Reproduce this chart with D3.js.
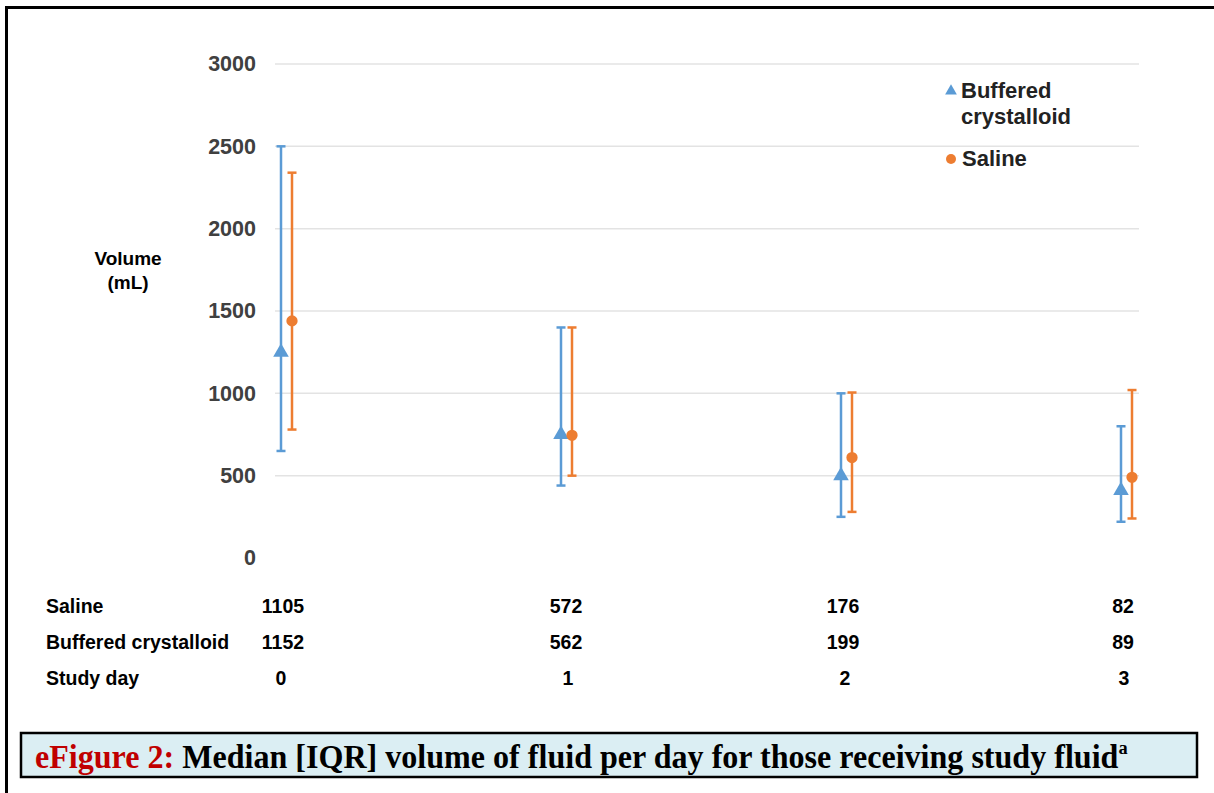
<!DOCTYPE html>
<html>
<head>
<meta charset="utf-8">
<script src="https://cdn.jsdelivr.net/npm/d3@7"></script>
<style>
  body { margin: 0; background: #fff; }
  svg { display: block; }
</style>
</head>
<body>
<svg id="chart" width="1214" height="793"></svg>
<script>
// Study days on the x axis
var days = [0, 1, 2, 3];

// Buffered crystalloid: median and IQR (mL)
var bufferedMedian = [1250, 750, 500, 410];
var bufferedLow = [650, 440, 250, 220];
var bufferedHigh = [2500, 1400, 1000, 800];

// Saline: median and IQR (mL)
var salineMedian = [1440, 745, 610, 490];
var salineLow = [780, 500, 280, 240];
var salineHigh = [2340, 1400, 1005, 1020];

// Patient counts shown under the chart
var salineN = [1105, 572, 176, 82];
var bufferedN = [1152, 562, 199, 89];

var yTicks = [0, 500, 1000, 1500, 2000, 2500, 3000];

var blue = "#5b9bd5";
var orange = "#ed7d31";
var sans = "Liberation Sans, Arial, sans-serif";

var svg = d3.select("#chart");

// Outer frame (left and top edges only are visible)
svg.append("path")
    .attr("d", "M6.5,793 L6.5,7.5 L1214,7.5")
    .attr("fill", "none")
    .attr("stroke", "#000")
    .attr("stroke-width", 3);

// Scales
var x = d3.scalePoint().domain(days).range([286, 1126]);
var y = d3.scaleLinear().domain([0, 3000]).range([558, 64]);

// Gridlines
svg.append("g").selectAll("line")
    .data(yTicks.filter(function (d) { return d > 0; }))
    .enter().append("line")
    .attr("x1", 275).attr("x2", 1139)
    .attr("y1", function (d) { return y(d); })
    .attr("y2", function (d) { return y(d); })
    .attr("stroke", "#e3e3e3")
    .attr("stroke-width", 1.5);

// Y axis labels
var yAxis = d3.axisLeft(y).tickValues(yTicks).tickFormat(d3.format("d")).tickSize(0).tickPadding(0);
var ya = svg.append("g").attr("transform", "translate(256,0)").call(yAxis);
ya.select(".domain").remove();
ya.selectAll("text")
    .style("font-family", sans)
    .style("font-size", "21.5px")
    .style("font-weight", "bold")
    .attr("fill", "#404040");

// Axis title
var yt = svg.append("text")
    .attr("text-anchor", "middle")
    .style("font-family", sans)
    .style("font-size", "19px")
    .style("font-weight", "bold")
    .attr("fill", "#000");
yt.append("tspan").attr("x", 128).attr("y", 265).text("Volume");
yt.append("tspan").attr("x", 128).attr("y", 289).text("(mL)");

// Draw one series of error bars with markers
function drawSeries(median, low, high, color, offset, marker, size) {
    var g = svg.append("g");
    days.forEach(function (d, i) {
        var cx = x(d) + offset;
        g.append("line")
            .attr("x1", cx).attr("x2", cx)
            .attr("y1", y(low[i])).attr("y2", y(high[i]))
            .attr("stroke", color).attr("stroke-width", 2.5);
        [low[i], high[i]].forEach(function (v) {
            g.append("line")
                .attr("x1", cx - 4.5).attr("x2", cx + 4.5)
                .attr("y1", y(v)).attr("y2", y(v))
                .attr("stroke", color).attr("stroke-width", 2.5);
        });
        g.append("path")
            .attr("d", d3.symbol().type(marker).size(size)())
            .attr("transform", "translate(" + cx + "," + y(median[i]) + ")")
            .attr("fill", color);
    });
}

drawSeries(bufferedMedian, bufferedLow, bufferedHigh, blue, -5, d3.symbolTriangle, 105);
drawSeries(salineMedian, salineLow, salineHigh, orange, 6, d3.symbolCircle, 100);

// Legend
var legend = svg.append("g")
    .style("font-family", sans)
    .style("font-size", "22px")
    .style("font-weight", "bold");
legend.append("path")
    .attr("d", d3.symbol().type(d3.symbolTriangle).size(60)())
    .attr("transform", "translate(951,91)")
    .attr("fill", blue);
var lt = legend.append("text").attr("fill", "#222");
lt.append("tspan").attr("x", 961).attr("y", 98).text("Buffered");
lt.append("tspan").attr("x", 961).attr("y", 124).text("crystalloid");
legend.append("circle")
    .attr("cx", 951).attr("cy", 159).attr("r", 5)
    .attr("fill", orange);
legend.append("text").attr("x", 962).attr("y", 166).attr("fill", "#222").text("Saline");

// Table of counts under the chart
var rows = [
    { label: "Saline", values: salineN, y: 613, shift: [0, 3, 0, 0] },
    { label: "Buffered crystalloid", values: bufferedN, y: 649, shift: [0, 3, 0, 0] },
    { label: "Study day", values: days, y: 685, shift: [-2, 5, 2, 1] }
];
var table = svg.append("g")
    .style("font-family", sans)
    .style("font-size", "19.5px")
    .style("font-weight", "bold")
    .attr("fill", "#000");
rows.forEach(function (r) {
    table.append("text").attr("x", 46).attr("y", r.y).text(r.label);
    r.values.forEach(function (v, i) {
        table.append("text")
            .attr("x", x(days[i]) - 3 + r.shift[i])
            .attr("y", r.y)
            .attr("text-anchor", "middle")
            .text(v);
    });
});

// Caption box
svg.append("rect")
    .attr("x", 21).attr("y", 733)
    .attr("width", 1176).attr("height", 44)
    .attr("fill", "#dbeef3")
    .attr("stroke", "#000")
    .attr("stroke-width", 2.5);
var cap = svg.append("text")
    .attr("x", 35).attr("y", 768)
    .style("font-family", "Liberation Serif, Times New Roman, serif")
    .style("font-size", "33px")
    .style("font-weight", "bold");
cap.append("tspan").attr("fill", "#c00000").text("eFigure 2: ");
cap.append("tspan").attr("fill", "#000").text("Median [IQR] volume of fluid per day for those receiving study fluid");
cap.append("tspan").attr("fill", "#000").attr("dy", -14).style("font-size", "19px").text("a");
// Squeeze the caption to the reference width
var capW = cap.node().getComputedTextLength();
cap.attr("transform", "translate(35,0) scale(" + (1093 / capW) + ",1) translate(-35,0)");
</script>
</body>
</html>
